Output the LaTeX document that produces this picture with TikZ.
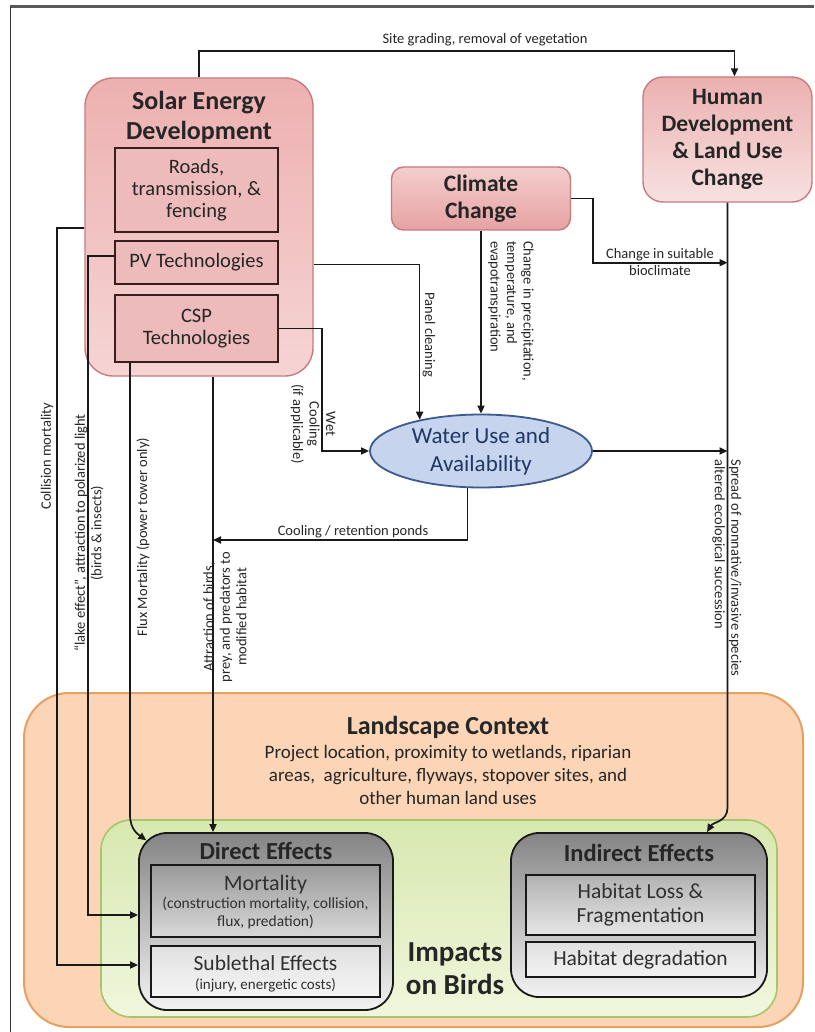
\documentclass[tikz,border=0pt]{standalone}
\usepackage{fontspec}
\setmainfont{Carlito}
\usetikzlibrary{arrows.meta,calc,shapes.geometric}
\definecolor{txt}{HTML}{262626}
\definecolor{sedtop}{HTML}{EDB0B0}
\definecolor{sedbot}{HTML}{F6D4D4}
\definecolor{sedline}{HTML}{C77B7B}
\definecolor{innerfill}{HTML}{EDBBBB}
\definecolor{innerline}{HTML}{3A1E1E}
\definecolor{climtop}{HTML}{F4CDCD}
\definecolor{climbot}{HTML}{E6A2A2}
\definecolor{humtop}{HTML}{EBB0B0}
\definecolor{humbot}{HTML}{F8E1E1}
\definecolor{waterfill}{HTML}{C6D4EE}
\definecolor{waterline}{HTML}{3D5A8C}
\definecolor{watertxt}{HTML}{203864}
\definecolor{landfill}{HTML}{FBD5B5}
\definecolor{landline}{HTML}{E8A060}
\definecolor{greentop}{HTML}{D7E8B0}
\definecolor{greenbot}{HTML}{F0F6DC}
\definecolor{greenline}{HTML}{A9C46E}
\definecolor{graytxt}{HTML}{303030}
\begin{document}
\begin{tikzpicture}[x=1pt,y=-1pt,
  conn/.style={line width=1.7pt, draw=black!90},
  arr/.style={conn,-{Triangle[length=8pt,width=7pt]}},
  lbl/.style={font=\fontsize{14.5}{16.5}\selectfont, text=txt, inner sep=0pt},
  ttl/.style={font=\bfseries\fontsize{23.5}{27}\selectfont, text=txt, align=center, inner sep=0pt},
  sedbox/.style={draw=sedline, line width=1.4pt, rounded corners=28pt, top color=sedtop, bottom color=sedbot},
  subbox/.style={draw=innerline, line width=2.2pt, fill=innerfill, inner sep=0pt, align=center,
                 text=txt, font=\fontsize{20.5}{22}\selectfont},
  graybox/.style={draw=black!90, line width=1.8pt, rounded corners=28pt, top color=black!48, bottom color=black!5},
  effbox/.style={draw=black!90, line width=2pt, inner sep=0pt, align=center, text=graytxt,
                 font=\fontsize{21.5}{24}\selectfont}
]
\useasboundingbox (0,0) rectangle (814,1032);
\fill[white] (0,0) rectangle (814,1032);
% frame
\draw[line width=3pt, draw=black!65] (10,7) -- (814,7);
\draw[line width=1pt, draw=black!80] (10,7) -- (10,1032);

% ---- boxes ----
\node[sedbox, minimum width=228pt, minimum height=298pt] (sed) at (199,227) {};
\node[ttl, font=\bfseries\fontsize{26}{30}\selectfont] (sedt) at (199,117) {Solar Energy\\Development};
\node[subbox, minimum width=163pt, minimum height=84pt] (roads) at (196.5,190) {Roads,\\transmission, \&\\fencing};
\node[subbox, minimum width=163pt, minimum height=43pt] (pv) at (196.5,262.5) {PV Technologies};
\node[subbox, minimum width=163pt, minimum height=67pt] (csp) at (196.5,328.5) {CSP\\Technologies};

\node[ttl, draw=sedline, line width=1.4pt, rounded corners=20pt, top color=humtop, bottom color=humbot,
      minimum width=169pt, minimum height=125pt] (hum) at (727.5,139.5) {Human\\Development\\\& Land Use\\Change};
\node[ttl, draw=sedline, line width=1.4pt, rounded corners=12pt, top color=climtop, bottom color=climbot,
      minimum width=179pt, minimum height=63pt] (clim) at (481,198.5) {Climate\\Change};

\node[ellipse, draw=waterline, line width=1.8pt, fill=waterfill, inner sep=0pt,
      minimum width=222pt, minimum height=73pt, align=center, text=watertxt,
      font=\fontsize{23}{28}\selectfont] (water) at (481,451) {Water Use and\\Availability};

\node[draw=landline, line width=2pt, fill=landfill, rounded corners=45pt,
      minimum width=779pt, minimum height=334pt] (land) at (413.5,860) {};
\node[font=\bfseries\fontsize{26}{30}\selectfont, text=txt, inner sep=0pt] (landt) at (448,727) {Landscape Context};
\node[font=\fontsize{19}{23}\selectfont, text=txt, align=center, inner sep=0pt] (landb) at (448,775)
  {Project location, proximity to wetlands, riparian\\areas,\ \ agriculture, flyways, stopover sites, and\\other human land uses};

\node[draw=greenline, line width=1.6pt, top color=greentop, bottom color=greenbot, rounded corners=30pt,
      minimum width=676pt, minimum height=197pt] (green) at (439,918.5) {};

\node[graybox, minimum width=254pt, minimum height=177pt] (dir) at (266,921.5) {};
\node[ttl, font=\bfseries\fontsize{24.5}{28}\selectfont] (dirt) at (266,851) {Direct Effects};
\node[effbox, top color=black!40, bottom color=black!15, minimum width=229pt, minimum height=72pt] (mort) at (265.5,901) {};
\node[text=graytxt, font=\fontsize{22}{24}\selectfont, inner sep=0pt] (mortt) at (265.5,885) {Mortality};
\node[text=graytxt, font=\fontsize{15.5}{18}\selectfont, align=center, inner sep=0pt] (mortd) at (265.5,913.5)
  {(construction mortality, collision,\\flux, predation)};
\node[effbox, top color=black!12, bottom color=black!4, minimum width=229pt, minimum height=51pt] (sub) at (265.5,971.5) {};
\node[text=graytxt, font=\fontsize{21.5}{24}\selectfont, inner sep=0pt] (subt) at (265.5,963) {Sublethal Effects};
\node[text=graytxt, font=\fontsize{15}{18}\selectfont, inner sep=0pt] (subd) at (265.5,985) {(injury, energetic costs)};

\node[graybox, minimum width=256pt, minimum height=164pt] (ind) at (639,915) {};
\node[ttl, font=\bfseries\fontsize{24.5}{28}\selectfont] (indt) at (639,853) {Indirect Effects};
\node[effbox, top color=black!30, bottom color=black!10, minimum width=229pt, minimum height=60pt] (hloss) at (640.5,905) {Habitat Loss \&\\Fragmentation};
\node[effbox, top color=black!12, bottom color=black!5, minimum width=229pt, minimum height=35pt] (hdeg) at (640.5,959.5) {Habitat degradation};

\node[ttl, font=\bfseries\fontsize{29}{33}\selectfont] (imp) at (455,968.5) {Impacts\\on Birds};

% ---- helper coordinates ----
\coordinate (ax) at (213,540);
\coordinate (cx) at (57,228);
\coordinate (cx2) at (57,965);
\coordinate (lx) at (88,256);
\coordinate (lx2) at (88,915);
\coordinate (fx) at (130,815);
\coordinate (fxend) at ($(dir.north west)+(8.2,8.2)$);

% ---- connectors ----
\draw[arr] (sed.north) -- ++(0,-26) -| ($(hum.north)+(7,0)$);
\draw[arr] ($(sed.east |- pv.east)+(0,2)$) -| (water.153);
\draw[arr] (clim.south) -- (water.north);
\draw[arr] (csp.east) -- ++(43,0) |- (water.west);
\draw[arr] (clim.east) -- ++(22,0) |- ($(hum.south)+(0,60)$);
\draw[arr] (water.east) -- (water.east -| hum.south);
\draw[arr] (hum.south) -- ++(0,605) .. controls +(0,14) and +(6,-10) .. ($(ind.north)+(68,0)$);
\draw[arr] (water.250) |- (ax);
\draw[arr] (sed.south -| ax) -- (dir.north -| ax);
\draw[arr] (csp.south -| fx) -- (fx) .. controls (130,830) and (139,835) .. (fxend);
\draw[arr] (sed.west |- cx) -- (cx) -- (cx2) -- (dir.west |- cx2);
\draw[arr] (pv.west |- lx) -- (lx) -- (lx2) -- (dir.west |- lx2);

% ---- connector labels ----
\node[lbl] (lsite) at (485,40) {Site grading, removal of vegetation};
\node[lbl, rotate=-90] (lpanel) at (429,335) {Panel cleaning};
\node[lbl, rotate=-90, align=left] (lprecip) at (511,311) {Change in precipitation,\\temperature, and\\evapotranspiration};
\node[lbl, align=center] (lbio) at (660,262) {Change in suitable\\bioclimate};
\node[lbl, rotate=-90, align=center] (lwet) at (313,424) {Wet\\Cooling\\(if applicable)};
\node[lbl, anchor=south] (lcool) at (353,538) {Cooling / retention ponds};
\node[lbl, rotate=-90, align=left] (lspread) at (727,568) {Spread of nonnative/invasive species\\altered ecological succession};
\node[lbl, rotate=90] (lcoll) at (47,456) {Collision mortality};
\node[lbl, rotate=90, align=center] (llake) at (89,533) {``lake effect'', attraction to polarized light\\(birds \& insects)};
\node[lbl, rotate=90] (lflux) at (143,537) {Flux Mortality (power tower only)};
\node[lbl, rotate=90, align=center] (lattr) at (225,617) {Attraction of birds,\\prey, and predators to\\modified habitat};
\end{tikzpicture}
\end{document}
